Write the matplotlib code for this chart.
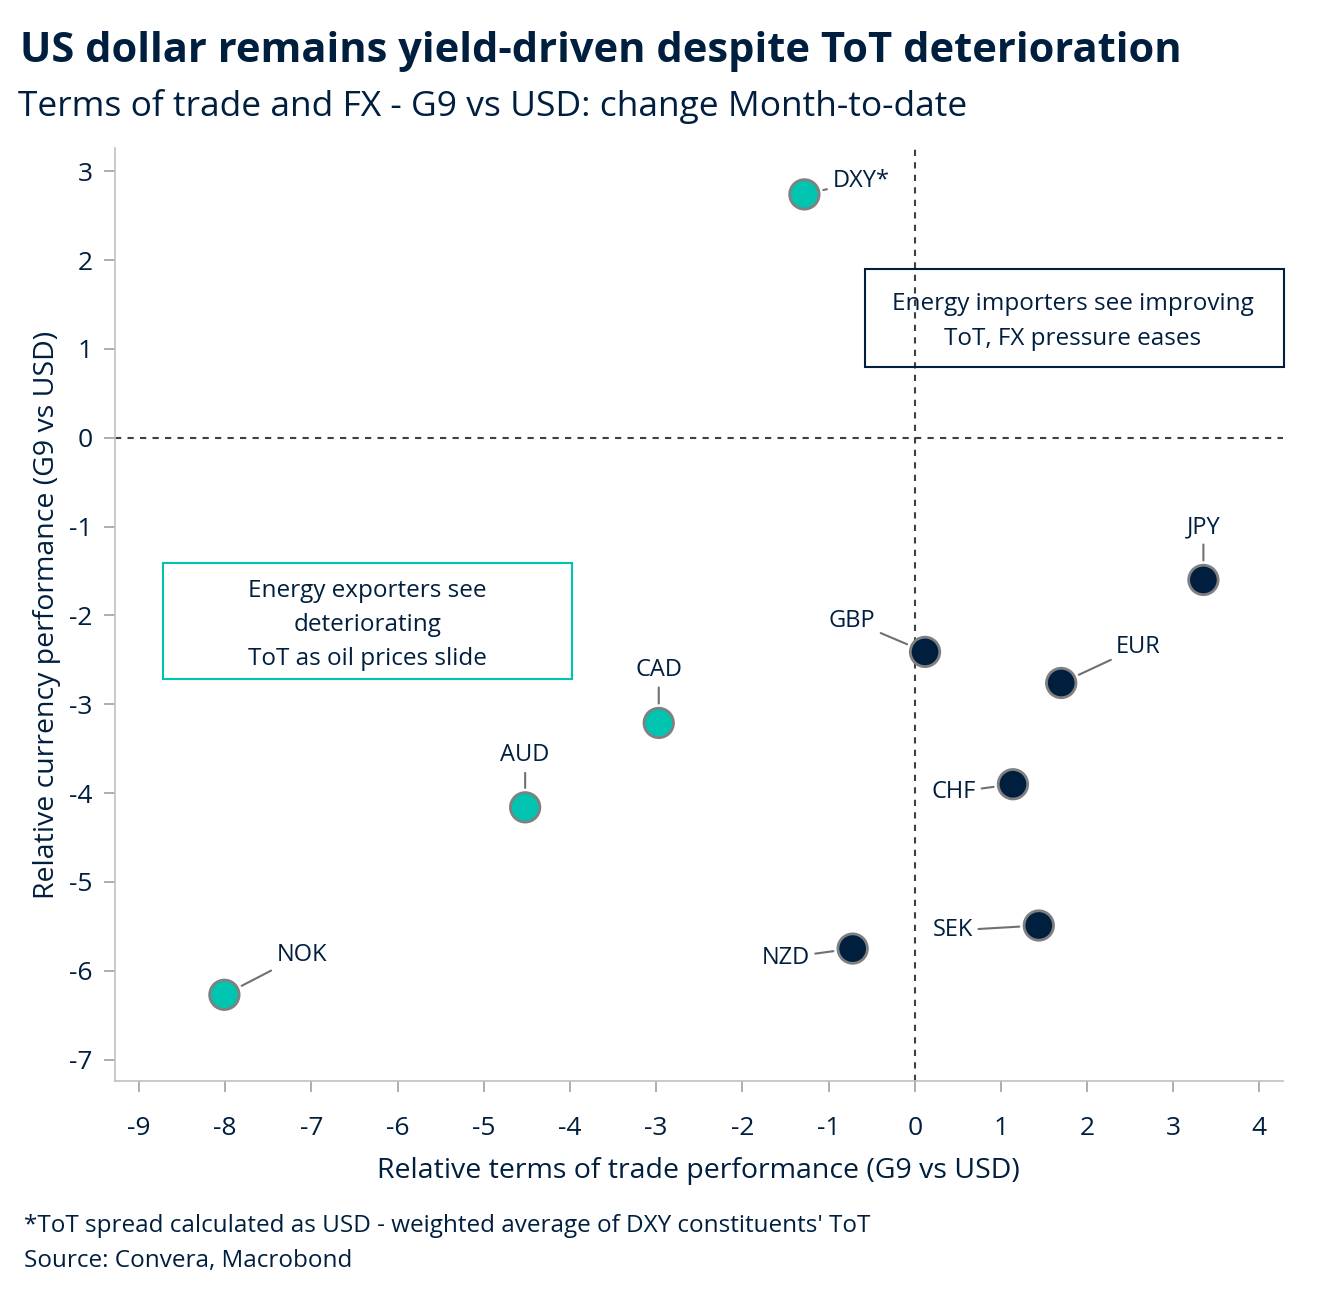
import matplotlib.pyplot as plt
from matplotlib.patches import Rectangle

plt.rcParams['font.family'] = ['Open Sans', 'DejaVu Sans']
plt.rcParams['axes.unicode_minus'] = False

navy = '#001F3F'
teal = '#00C4B0'

# data
ccy = ['DXY*', 'JPY', 'GBP', 'EUR', 'CAD', 'AUD', 'CHF', 'SEK', 'NZD', 'NOK']
tot = [-1.28, 3.35, 0.12, 1.70, -2.97, -4.52, 1.14, 1.44, -0.72, -8.01]
fx = [2.74, -1.60, -2.41, -2.76, -3.21, -4.16, -3.90, -5.49, -5.75, -6.27]
exporter = [True, False, False, False, True, True, False, False, False, True]

# label offsets in pixels (dx, dy) and alignment
offs = {
    'DXY*': (28, 13, 'left'),
    'JPY': (0, 53, 'center'),
    'GBP': (-73, 31, 'center'),
    'EUR': (55, 36, 'left'),
    'CAD': (0, 53, 'center'),
    'AUD': (0, 52, 'center'),
    'CHF': (-59, -8, 'center'),
    'SEK': (-86, -5, 'center'),
    'NZD': (-67, -9, 'center'),
    'NOK': (52, 40, 'left'),
}

fig = plt.figure(figsize=(13.21, 13.0), dpi=100)
ax = fig.add_axes([0.087, 0.1685, 0.884, 0.7175])

ax.axvline(0, color='#404040', lw=1.5, ls=(0, (3, 3)), zorder=1)
ax.axhline(0, color='#404040', lw=1.5, ls=(0, (3, 3)), zorder=1)

cols = [teal if e else navy for e in exporter]
ax.scatter(tot, fx, s=450, c=cols, edgecolors='#808080', linewidths=2, zorder=3)

for name, x, y in zip(ccy, tot, fx):
    dx, dy, ha = offs[name]
    ax.annotate(name, (x, y), xytext=(dx, dy), textcoords='offset pixels',
                ha=ha, va='center', fontsize=17, color=navy,
                arrowprops=dict(arrowstyle='-', color='#707070', lw=1.5,
                                shrinkA=2, shrinkB=14))

# boxes
ax.add_patch(Rectangle((-0.58, 0.80), 4.86, 1.10, fill=False, ec=navy, lw=1.5,
                       clip_on=False, zorder=4))
ax.text(1.83, 1.31, 'Energy importers see improving\nToT, FX pressure eases',
        ha='center', va='center', fontsize=17.5, color=navy, linespacing=1.62)
ax.add_patch(Rectangle((-8.72, -2.71), 4.74, 1.30, fill=False, ec=teal, lw=1.5,
                       clip_on=False, zorder=4))
ax.text(-6.35, -2.105, 'Energy exporters see\ndeteriorating\nToT as oil prices slide',
        ha='center', va='center', fontsize=17.5, color=navy, linespacing=1.55)

ax.set_xlim(-9.28, 4.27)
ax.set_ylim(-7.24, 3.26)
ax.set_xticks(range(-9, 5))
ax.set_yticks(range(-7, 4))
ax.tick_params(colors='#A0A0A0', labelcolor=navy, labelsize=19, length=8, width=1.2)
ax.tick_params(axis='x', pad=17)
ax.tick_params(axis='y', pad=8)
for s in ['top', 'right']:
    ax.spines[s].set_visible(False)
for s in ['left', 'bottom']:
    ax.spines[s].set_color('#C0C0C0')
    ax.spines[s].set_linewidth(1.2)

ax.set_xlabel('Relative terms of trade performance (G9 vs USD)', fontsize=20.5,
              color=navy, labelpad=12)
ax.set_ylabel('Relative currency performance (G9 vs USD)', fontsize=20.5,
              color=navy, labelpad=6)

fig.text(0.015, 0.960, 'US dollar remains yield-driven despite ToT deterioration',
         fontsize=30, fontweight='bold', color=navy, va='center')
fig.text(0.014, 0.918, 'Terms of trade and FX - G9 vs USD: change Month-to-date',
         fontsize=25.5, color=navy, va='center')
fig.text(0.018, 0.057, "*ToT spread calculated as USD - weighted average of DXY constituents' ToT",
         fontsize=17.5, color=navy, va='center')
fig.text(0.018, 0.030, 'Source: Convera, Macrobond', fontsize=17.5, color=navy, va='center')

fig.savefig('out.png', dpi=100)
